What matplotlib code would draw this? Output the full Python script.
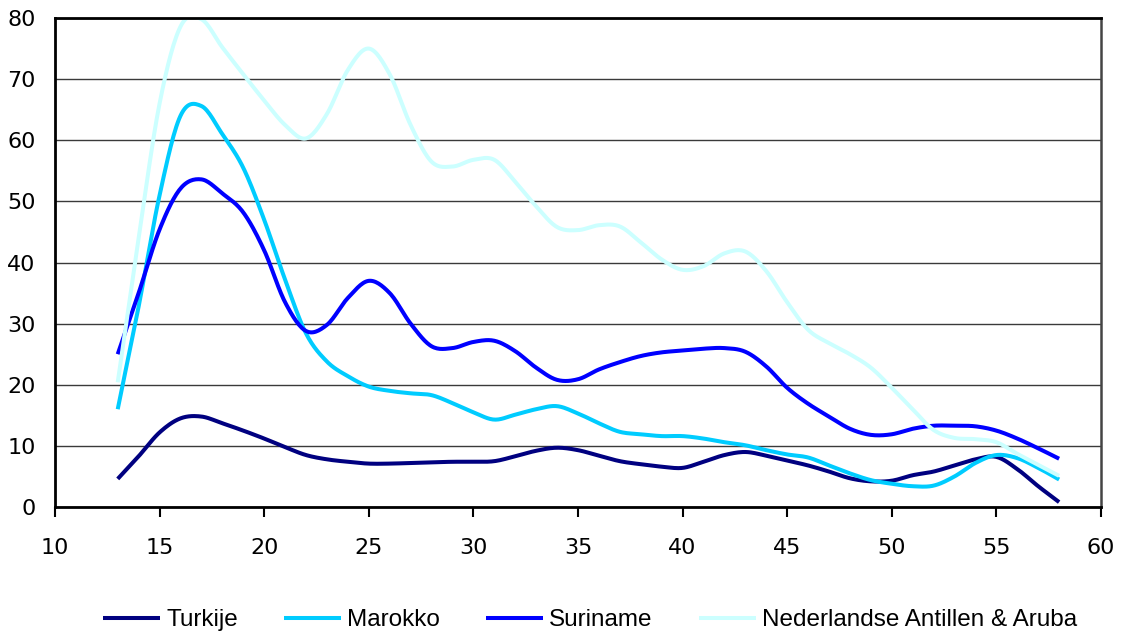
import numpy as np
import matplotlib
matplotlib.use("Agg")
import matplotlib.pyplot as plt

plt.rcParams.update({
    "font.family": "DejaVu Sans",
})

# ages 13..58
ages = list(range(13, 59))

turkije = [4.6, 8.3, 12.2, 14.5, 14.8, 13.7, 12.5, 11.2, 9.8, 8.5,
           7.8, 7.4, 7.1, 7.1, 7.2, 7.3, 7.4, 7.4, 7.5, 8.3,
           9.2, 9.7, 9.3, 8.4, 7.5, 7.0, 6.6, 6.4, 7.4, 8.5,
           9.0, 8.4, 7.6, 6.8, 5.8, 4.7, 4.2, 4.3, 5.2, 5.8,
           6.8, 7.8, 8.2, 6.2, 3.4, 0.8]

marokko = [16.0, 32.8, 51.0, 64.0, 65.6, 61.0, 55.5, 47.0, 37.2, 28.4,
           23.8, 21.4, 19.7, 19.0, 18.6, 18.3, 17.0, 15.5, 14.3, 15.1,
           16.0, 16.5, 15.3, 13.7, 12.3, 11.9, 11.6, 11.6, 11.2, 10.6,
           10.1, 9.3, 8.6, 8.1, 6.8, 5.5, 4.4, 3.8, 3.4, 3.5,
           5.0, 7.2, 8.5, 8.0, 6.4, 4.5]

suriname = [25.0, 35.0, 45.4, 52.1, 53.6, 51.3, 48.2, 42.0, 33.5, 28.8,
            29.8, 34.2, 37.0, 35.0, 30.0, 26.3, 26.0, 27.0, 27.2, 25.5,
            22.8, 20.8, 20.9, 22.5, 23.7, 24.7, 25.3, 25.6, 25.9, 26.0,
            25.4, 23.0, 19.5, 16.9, 14.8, 12.8, 11.8, 11.9, 12.8, 13.3,
            13.3, 13.2, 12.5, 11.2, 9.6, 7.9]

antillen = [20.4, 44.0, 66.0, 78.6, 79.8, 75.2, 70.8, 66.5, 62.5, 60.3,
            64.3, 71.5, 75.0, 70.8, 62.5, 56.5, 55.7, 56.8, 56.8, 53.2,
            49.2, 45.8, 45.3, 46.1, 45.9, 43.3, 40.5, 38.8, 39.4, 41.5,
            41.8, 38.6, 33.5, 29.0, 26.8, 25.0, 22.8, 19.5, 16.0, 12.6,
            11.3, 11.1, 10.6, 8.7, 6.9, 5.1]

labels = ["Turkije", "Marokko", "Suriname", "Nederlandse Antillen & Aruba"]
colors = ["#000080", "#00CCFF", "#0000FF", "#CCFFFF"]


def smooth(x, y, n=16):
    # Excel-style smoothed line (bezier through the points)
    p = np.column_stack([x, y]).astype(float)
    out = [p[0]]
    t = np.linspace(0, 1, n)[1:, None]
    for i in range(len(p) - 1):
        p0 = p[max(i - 1, 0)]; p1 = p[i]; p2 = p[i + 1]; p3 = p[min(i + 2, len(p) - 1)]
        c1 = p1 + (p2 - p0) / 6.0
        c2 = p2 - (p3 - p1) / 6.0
        seg = ((1 - t) ** 3) * p1 + 3 * ((1 - t) ** 2) * t * c1 + 3 * (1 - t) * t ** 2 * c2 + t ** 3 * p2
        out.extend(seg)
    out = np.array(out)
    return out[:, 0], out[:, 1]


fig = plt.figure(figsize=(11.24, 6.34), dpi=100)
ax = fig.add_axes([0.0489, 0.2003, 0.9306, 0.7713])

for ys, c, lab in zip([turkije, marokko, suriname, antillen], colors, labels):
    sx, sy = smooth(ages, ys)
    ax.plot(sx, sy, color=c, linewidth=2.9, label=lab, solid_capstyle="butt")

ax.set_xlim(10, 60)
ax.set_ylim(0, 80)
ax.set_xticks(range(10, 61, 5))
ax.set_yticks(range(0, 81, 10))
ax.grid(True, axis="y", color="#3a3a3a", linewidth=1.0)
ax.set_axisbelow(True)
ax.tick_params(axis="x", direction="out", length=7, width=1.5, pad=15, labelsize=16)
ax.tick_params(axis="y", length=0, pad=14, labelsize=16)
for s in ["left", "bottom", "top"]:
    ax.spines[s].set_linewidth(2.0)
    ax.spines[s].set_color("black")
ax.spines["right"].set_linewidth(1.8)
ax.spines["right"].set_color("#444444")

fig.legend(loc="center", bbox_to_anchor=(0.525, 0.022), ncol=4, frameon=False,
           handlelength=2.35, handletextpad=0.25, columnspacing=1.9,
           prop={"family": "Liberation Sans", "size": 17.5})

fig.savefig("out.png", dpi=100)
